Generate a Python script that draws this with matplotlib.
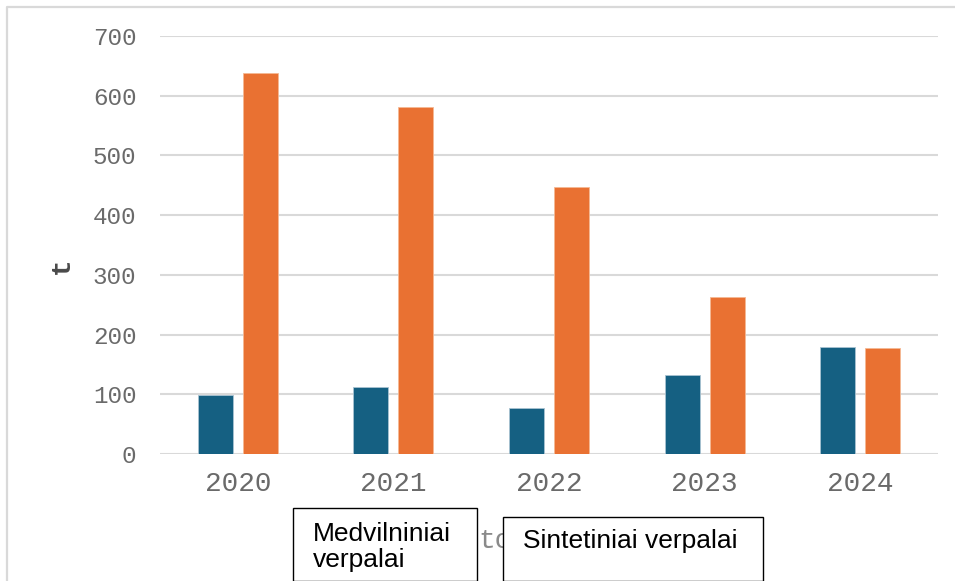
import matplotlib
matplotlib.use("Agg")
import matplotlib.pyplot as plt
from matplotlib.patches import Rectangle
from matplotlib.lines import Line2D
import numpy as np

years = ["2020", "2021", "2022", "2023", "2024"]
cotton = [99, 112, 77, 132, 179]
synthetic = [638, 581, 447, 263, 177]
series_names = ["Medvilniniai\nverpalai", "Sintetiniai verpalai"]
yticks = [0, 100, 200, 300, 400, 500, 600, 700]

W, H = 955, 581
fig = plt.figure(figsize=(W / 100, H / 100), dpi=100)

def fx(px):
    return px / W

def fy(py):
    return 1 - py / H

ax = fig.add_axes([fx(160), fy(454), fx(938) - fx(160), fy(36) - fy(454)])
x = np.arange(len(years))
bw = 0.225
off = 0.145
ax.bar(x - off, cotton, bw, color="#156082", edgecolor="#a9c3d1", linewidth=0.6, zorder=3)
ax.bar(x + off, synthetic, bw, color="#E97132", edgecolor="#f5b994", linewidth=0.6, zorder=3)
ax.set_xlim(-0.5, len(years) - 0.5)
ax.set_ylim(0, 700)
ax.set_yticks(yticks)
ax.set_xticks(x)
ax.set_xticklabels(years)
for s in ax.spines.values():
    s.set_visible(False)
ax.grid(axis="y", color="#d9d9d9", linewidth=1.5, zorder=0)
ax.tick_params(axis="y", length=0, pad=17, labelsize=17.5, labelcolor="#6a6a6a")
ax.tick_params(axis="x", length=0, pad=12, labelsize=20, labelcolor="#6a6a6a")
for lab in ax.get_xticklabels() + ax.get_yticklabels():
    lab.set_fontfamily("Liberation Mono")

fig.text(fx(62), fy(266), "t", rotation=90, ha="center", va="center",
         fontsize=20, color="#4a4a4a", fontweight="bold", family="Liberation Mono")

# partially hidden axis title
fig.text(fx(478), fy(548), "to", ha="left", va="baseline", fontsize=20,
         color="#8a8a8a", family="Liberation Mono", zorder=1)

# outer frame (top and left edges)
fig.add_artist(Line2D([fx(7), fx(7), 1.0], [0.0, fy(7), fy(7)], color="#d9d9d9",
                      linewidth=1.6, transform=fig.transFigure, zorder=0))

# legend boxes
r1 = Rectangle((fx(293), 0), fx(477) - fx(293), fy(508), transform=fig.transFigure,
               facecolor="white", edgecolor="black", linewidth=1.0, zorder=5)
r2 = Rectangle((fx(503), 0), fx(763) - fx(503), fy(517), transform=fig.transFigure,
               facecolor="white", edgecolor="black", linewidth=1.0, zorder=5)
fig.add_artist(r1)
fig.add_artist(r2)
l1 = series_names[0].split("\n")
fig.text(fx(313), fy(541), l1[0], ha="left", va="baseline", fontsize=19,
         family="Liberation Sans", color="black", zorder=6)
fig.text(fx(313), fy(567), l1[1], ha="left", va="baseline", fontsize=19,
         family="Liberation Sans", color="black", zorder=6)
fig.text(fx(523), fy(548), series_names[1], ha="left", va="baseline", fontsize=19,
         family="Liberation Sans", color="black", zorder=6)

fig.savefig("out.png", dpi=100)
